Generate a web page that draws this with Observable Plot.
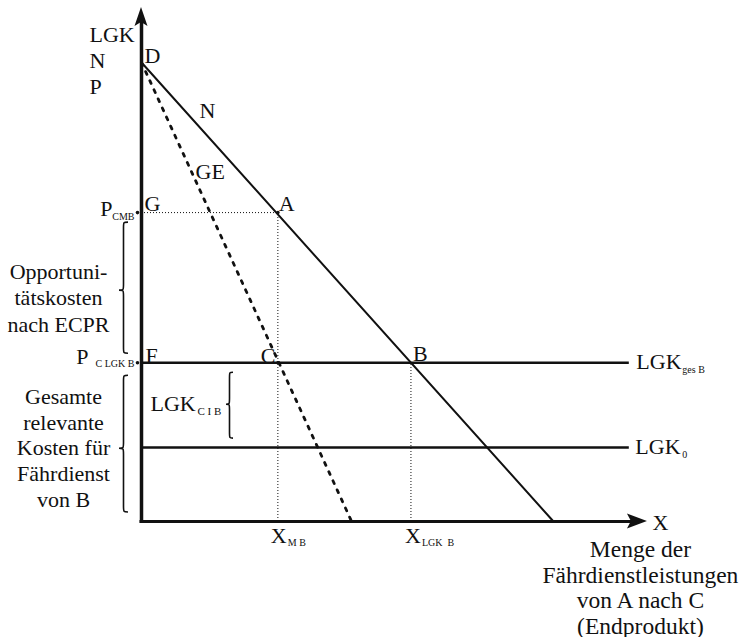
<!DOCTYPE html>
<html>
<head>
<meta charset="utf-8">
<script src="https://cdn.jsdelivr.net/npm/d3@7"></script>
<script src="https://cdn.jsdelivr.net/npm/@observablehq/plot@0.6"></script>
<style>
html,body{margin:0;padding:0;background:#fff;}
#chart svg{display:block;}
</style>
</head>
<body>
<div id="chart"></div>
<script>
// ---- Data (quantity q, price / cost p) ----
const demandN = [{q: 0, p: 10}, {q: 10, p: 0}];        // Nachfrage N
const grenzerloesGE = [{q: 0, p: 10}, {q: 5.1, p: 0}];  // Grenzerlös GE
const pCMB = 6.73;        // P_CMB
const pCLGKB = 3.46;      // P_C LGK B  (= LGK_ges B)
const lgk0 = 1.61;        // LGK_0
const xMB = 3.31;         // X_MB
const xLGKB = 6.54;       // X_LGK B
const axisTopP = 11.2;    // end of the vertical axis
const axisEndQ = 12.28;   // end of the horizontal axis
const costLineEndQ = 11.84;

const yAxisTitle = ["LGK", "N", "P"];
const xAxisTitle = ["Menge der", "Fährdienstleistungen", "von A nach C", "(Endprodukt)"];
const oppText = ["Opportuni-", "tätskosten", "nach ECPR"];
const costText = ["Gesamte", "relevante", "Kosten für", "Fährdienst", "von B"];
const pointLabels = ["D", "N", "GE", "G", "A", "F", "C", "B"];

// ---- layout calibration ----
const W = 741, H = 637, ox = 141, oy = 521, kx = 41.2, ky = 45.9;
const xDomain = [-ox / kx, (W - ox) / kx];
const yDomain = [(oy - H) / ky, oy / ky];
const font = "'Liberation Serif', 'Times New Roman', serif";
const ink = "#111";

const T = (t, q, p, o = {}) => Plot.text([{t, q, p}], {
  x: "q", y: "p", text: "t", fontFamily: font, fontSize: 22,
  lineAnchor: "bottom", textAnchor: "start", fill: ink, ...o
});
const S = (t, q, p, o = {}) => T(t, q, p, {fontSize: 10, ...o});

function pathMark(build) {
  return (index, scales) => {
    const sx = scales.x, sy = scales.y;
    const g = d3.create("svg:g");
    build(g, sx, sy);
    return g.node();
  };
}

function bracePath(xl, xr, y0, y1, yt) {
  const xm = (xl + xr) / 2, q = 6;
  return `M${xr},${y0} C${xm},${y0} ${xm},${y0} ${xm},${y0 + q} L${xm},${yt - q} ` +
    `C${xm},${yt} ${xm},${yt} ${xl},${yt} C${xm},${yt} ${xm},${yt} ${xm},${yt + q} ` +
    `L${xm},${y1 - q} C${xm},${y1} ${xm},${y1} ${xr},${y1}`;
}

const chart = Plot.plot({
  width: W, height: H,
  margin: 0,
  x: {domain: xDomain, axis: null},
  y: {domain: yDomain, axis: null},
  style: {background: "#fff", fontFamily: font},
  marks: [
    // dotted helper lines
    Plot.ruleY([pCMB], {x1: 0, x2: xMB, stroke: ink, strokeWidth: 1, strokeDasharray: "1,2"}),
    Plot.ruleX([xMB], {y1: 0, y2: pCMB, stroke: ink, strokeWidth: 1, strokeDasharray: "1,2"}),
    Plot.ruleX([xLGKB], {y1: 0, y2: pCLGKB, stroke: ink, strokeWidth: 1, strokeDasharray: "1,2"}),
    // cost lines
    Plot.ruleY([pCLGKB], {x1: 0, x2: costLineEndQ, stroke: ink, strokeWidth: 2.5}),
    Plot.ruleY([lgk0], {x1: 0, x2: costLineEndQ, stroke: ink, strokeWidth: 2.5}),
    // demand and marginal revenue
    Plot.line(demandN, {x: "q", y: "p", stroke: ink, strokeWidth: 2}),
    Plot.line(grenzerloesGE, {x: "q", y: "p", stroke: ink, strokeWidth: 2.8, strokeDasharray: "3,7"}),
    // axes
    Plot.ruleX([0], {y1: 0, y2: axisTopP - 15 / ky, stroke: ink, strokeWidth: 3.5, strokeLinecap: "square"}),
    Plot.ruleY([0], {x1: 0, x2: axisEndQ - 16 / kx, stroke: ink, strokeWidth: 3, strokeLinecap: "square"}),
    pathMark((g, sx, sy) => {
      const X = sx(0), Y = sy(axisTopP);
      g.append("path").attr("d", `M${X},${Y} L${X - 6.5},${Y + 19} L${X},${Y + 15} L${X + 6.5},${Y + 19} Z`).attr("fill", ink);
      const X2 = sx(axisEndQ), Y2 = sy(0);
      g.append("path").attr("d", `M${X2},${Y2} L${X2 - 20},${Y2 - 7.5} L${X2 - 16},${Y2} L${X2 - 20},${Y2 + 7.5} Z`).attr("fill", ink);
    }),
    // braces
    pathMark((g, sx, sy) => {
      const X = sx(0);
      const add = d => g.append("path").attr("d", d).attr("fill", "none").attr("stroke", ink).attr("stroke-width", 1.6);
      add(bracePath(X - 22, X - 13, sy(pCMB) + 10, sy(pCLGKB) - 9, (sy(pCMB) + sy(pCLGKB)) / 2 + 3));
      add(bracePath(X - 22, X - 13, sy(pCLGKB) + 13, sy(0) - 9, sy(pCLGKB) + 86));
      add(bracePath(X + 85, X + 92, sy(pCLGKB) + 10, sy(lgk0) - 9, sy(pCLGKB) + 42));
    }),
    // small points
    Plot.dot([{q: 0, p: pCMB}, {q: 0, p: pCLGKB}], {x: "q", y: "p", r: 1.8, fill: ink, dx: -4}),
    Plot.dot([{q: xMB, p: pCMB}, {q: xMB, p: pCLGKB}], {x: "q", y: "p", r: 1.8, fill: ink}),

    // axis titles
    T(yAxisTitle.join("\n"), 0, 10, {dx: -52, dy: 31, lineHeight: 1.16}),
    T(xAxisTitle.join("\n"), axisEndQ, 0, {dx: -7, dy: 112, textAnchor: "middle", fontSize: 23.5, lineHeight: 1.08}),
    T("X", axisEndQ, 0, {dx: 5, dy: 8}),
    // side texts
    T(oppText.join("\n"), 0, pCLGKB, {dx: -83, dy: -31, textAnchor: "middle", lineHeight: 1.2}),
    T(costText.join("\n"), 0, 0, {dx: -78, dy: -15, textAnchor: "middle", lineHeight: 1.16}),

    // point labels
    T(pointLabels[0], 0, 10, {dx: 3, dy: 0}),
    T(pointLabels[1], 0, 10, {dx: 58, dy: 55}),
    T(pointLabels[2], 0, 10, {dx: 54, dy: 116}),
    T(pointLabels[3], 0, pCMB, {dx: 3, dy: -2}),
    T(pointLabels[4], xMB, pCMB, {dx: 1, dy: -2}),
    T(pointLabels[5], 0, pCLGKB, {dx: 4, dy: 0}),
    T(pointLabels[6], xMB, pCLGKB, {dx: -17, dy: 0}),
    T(pointLabels[7], xLGKB, pCLGKB, {dx: 2, dy: -2}),

    // price labels on the vertical axis
    T("P", 0, pCMB, {dx: -29, dy: 3, textAnchor: "end"}),
    S("CMB", 0, pCMB, {dx: -7, dy: 7, textAnchor: "end"}),
    T("P", 0, pCLGKB, {dx: -53, dy: 1, textAnchor: "end"}),
    S("C LGK B", 0, pCLGKB, {dx: -7, dy: 4, textAnchor: "end"}),

    // cost line labels
    T("LGK", costLineEndQ, pCLGKB, {dx: 7, dy: 6}),
    S("ges B", costLineEndQ, pCLGKB, {dx: 53, dy: 10}),
    T("LGK", costLineEndQ, lgk0, {dx: 6, dy: 6}),
    S("0", costLineEndQ, lgk0, {dx: 53, dy: 10}),
    T("LGK", 0, pCLGKB, {dx: 9, dy: 48}),
    S("C I B", 0, pCLGKB, {dx: 56, dy: 52, fontSize: 11}),

    // quantity labels
    T("X", xMB, 0, {dx: -7, dy: 21}),
    S("M B", xMB, 0, {dx: 10, dy: 24}),
    T("X", xLGKB, 0, {dx: -6, dy: 21}),
    S("LGK  B", xLGKB, 0, {dx: 11, dy: 24})
  ]
});
document.getElementById("chart").appendChild(chart);
</script>
</body>
</html>
